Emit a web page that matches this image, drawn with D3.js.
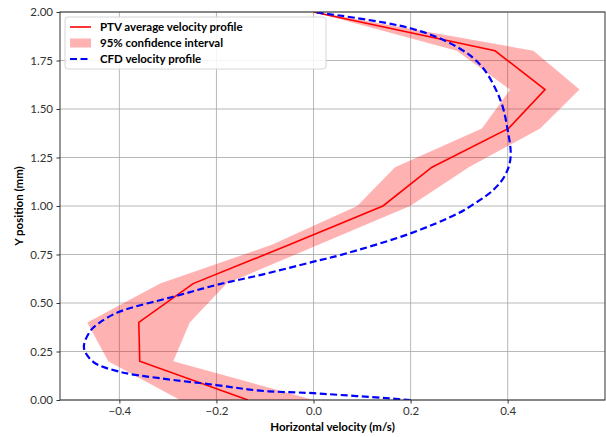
<!DOCTYPE html>
<html>
<head>
<meta charset="utf-8">
<script src="https://cdn.jsdelivr.net/npm/d3@7/dist/d3.min.js"></script>
<style>
  body { margin: 0; background: #fff; }
  svg { display: block; font-family: Lato, 'Open Sans', sans-serif; }
</style>
</head>
<body>
<div id="chart"></div>
<script>
  // PTV samples (y in mm, velocity in m/s)
  const ptvY = [0, 0.2, 0.4, 0.6, 0.8, 1.0, 1.2, 1.4, 1.6, 1.8, 2.0];
  const ptvMean = [-0.135, -0.358, -0.36, -0.248, -0.05, 0.143, 0.244, 0.402, 0.477, 0.374, 0.0];
  const ciLow = [-0.275, -0.423, -0.466, -0.316, -0.086, 0.09, 0.168, 0.347, 0.405, 0.295, 0.0];
  const ciHigh = [0.0, -0.289, -0.255, -0.179, 0.01, 0.199, 0.32, 0.467, 0.548, 0.453, 0.005];

  // CFD profile
  const cfdY = [0, 0.035, 0.048, 0.077, 0.112, 0.146, 0.197, 0.27, 0.355, 0.40, 0.455, 0.532, 0.593, 0.644, 0.713, 0.747, 0.859, 0.962, 0.997, 1.082, 1.16, 1.25, 1.392, 1.546, 1.718, 1.821, 1.916, 2.0];
  const cfdX = [0.2, 0.0, -0.11, -0.2, -0.316, -0.40, -0.454, -0.473, -0.46, -0.44, -0.4, -0.289, -0.2, -0.11, 0.0, 0.055, 0.2, 0.298, 0.322, 0.37, 0.395, 0.406, 0.40, 0.385, 0.347, 0.295, 0.2, 0.0];

  const xTicks = [-0.4, -0.2, 0.0, 0.2, 0.4];
  const yTicks = [0, 0.25, 0.5, 0.75, 1.0, 1.25, 1.5, 1.75, 2.0];
  const legendItems = ['PTV average velocity profile', '95% confidence interval', 'CFD velocity profile'];

  const W = 606, H = 437;
  const plot = { left: 60, right: 605, top: 12, bottom: 400 };

  const svg = d3.select('#chart').append('svg').attr('width', W).attr('height', H);

  const x = d3.scaleLinear().domain([-0.5223, 0.6005]).range([plot.left, plot.right]);
  const y = d3.scaleLinear().domain([0, 2]).range([plot.bottom, plot.top]);

  const grid = svg.append('g').attr('class', 'grid').attr('stroke', '#b0b0b0').attr('stroke-width', 0.9);
  grid.selectAll('.gx').data(xTicks).enter().append('line')
    .attr('x1', d => x(d)).attr('x2', d => x(d)).attr('y1', plot.top).attr('y2', plot.bottom);
  grid.selectAll('.gy').data(yTicks).enter().append('line')
    .attr('y1', d => y(d)).attr('y2', d => y(d)).attr('x1', plot.left).attr('x2', plot.right);

  svg.append('defs').append('clipPath').attr('id', 'clip').append('rect')
    .attr('x', plot.left).attr('y', plot.top)
    .attr('width', plot.right - plot.left).attr('height', plot.bottom - plot.top);

  const body = svg.append('g').attr('clip-path', 'url(#clip)');

  // band is a closed polygon: low edge going up, high edge coming back down
  const bandPts = ptvY.map((v, i) => [x(ciLow[i]), y(v)])
    .concat(ptvY.map((v, i) => [x(ciHigh[i]), y(v)]).reverse());
  body.append('path')
    .attr('d', 'M' + bandPts.join('L') + 'Z')
    .attr('fill', 'red').attr('fill-opacity', 0.3).attr('stroke', 'none');

  const ptvLine = d3.line().x((d, i) => x(ptvMean[i])).y(d => y(d));
  body.append('path').datum(ptvY)
    .attr('d', ptvLine)
    .attr('fill', 'none').attr('stroke', 'red').attr('stroke-width', 1.6);

  const cfdLine = d3.line().x((d, i) => x(cfdX[i])).y(d => y(d)).curve(d3.curveCatmullRom.alpha(0.5));
  body.append('path').datum(cfdY)
    .attr('d', cfdLine)
    .attr('fill', 'none').attr('stroke', 'blue').attr('stroke-width', 2.2)
    .attr('stroke-dasharray', '7,3.5');

  // axes
  const fmtX = d => d3.format('.1f')(d).replace('-', '\u2212');
  const xAxis = svg.append('g').attr('transform', `translate(0,${plot.bottom})`)
    .call(d3.axisBottom(x).tickValues(xTicks).tickFormat(fmtX).tickSizeOuter(0).tickSize(3.5).tickPadding(3));
  const yAxis = svg.append('g').attr('transform', `translate(${plot.left},0)`)
    .call(d3.axisLeft(y).tickValues(yTicks).tickFormat(d3.format('.2f')).tickSizeOuter(0).tickSize(3.5).tickPadding(3.5));
  [xAxis, yAxis].forEach(a => {
    a.select('.domain').remove();
    a.selectAll('.tick line').attr('stroke', '#333');
    a.selectAll('.tick text').attr('fill', '#333').style('font-size', '11.5px').style('font-family', 'Lato, sans-serif');
  });

  svg.append('rect')
    .attr('x', plot.left).attr('y', plot.top)
    .attr('width', plot.right - plot.left).attr('height', plot.bottom - plot.top)
    .attr('fill', 'none').attr('stroke', '#333').attr('stroke-width', 1);

  svg.append('text').text('Horizontal velocity (m/s)')
    .attr('x', (plot.left + plot.right) / 2).attr('y', 431)
    .attr('text-anchor', 'middle').style('font-size', '11.5px').style('font-weight', 700).attr('fill', '#000');
  svg.append('text').text('Y position (mm)')
    .attr('transform', `translate(23,${(plot.top + plot.bottom) / 2}) rotate(-90)`)
    .attr('text-anchor', 'middle').style('font-size', '11.5px').style('font-weight', 700).attr('fill', '#000');

  // legend
  const legend = svg.append('g').attr('transform', 'translate(65,17)');
  legend.append('rect').attr('width', 261).attr('height', 52).attr('rx', 3)
    .attr('fill', '#fff').attr('fill-opacity', 0.85).attr('stroke', '#d6d6d6');
  const rows = legend.selectAll('.row').data(legendItems).enter().append('g')
    .attr('transform', (d, i) => `translate(0,${10 + i * 16})`);
  rows.filter((d, i) => i === 0).append('line')
    .attr('x1', 5).attr('x2', 26).attr('stroke', 'red').attr('stroke-width', 1.6);
  rows.filter((d, i) => i === 1).append('rect')
    .attr('x', 5).attr('y', -4.5).attr('width', 21).attr('height', 9)
    .attr('fill', 'red').attr('fill-opacity', 0.3);
  rows.filter((d, i) => i === 2).append('line')
    .attr('x1', 5).attr('x2', 26).attr('stroke', 'blue').attr('stroke-width', 2.2).attr('stroke-dasharray', '7,3.5');
  rows.append('text').text(d => d)
    .attr('x', 35).attr('dy', '0.35em')
    .style('font-size', '11.5px').style('font-weight', 700).attr('fill', '#000');
</script>
</body>
</html>
